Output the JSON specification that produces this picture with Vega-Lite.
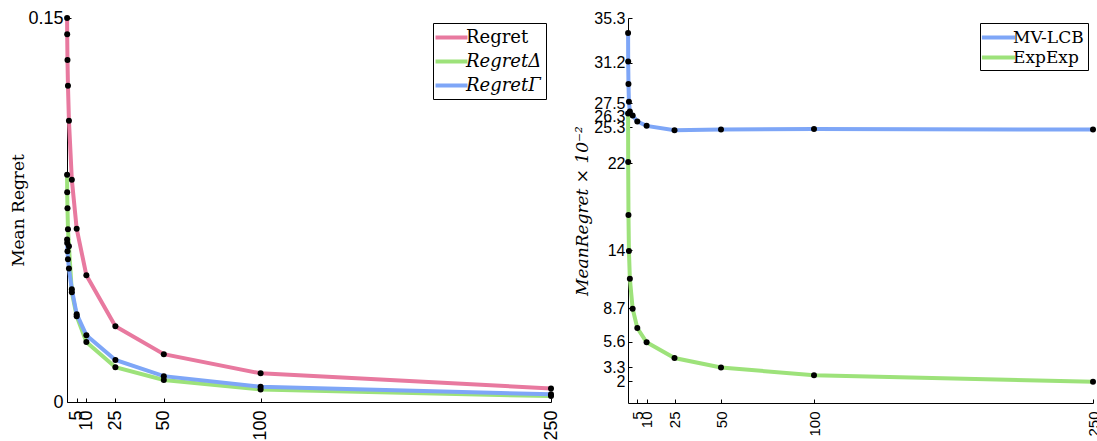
{
  "$schema": "https://vega.github.io/schema/vega-lite/v6.json",
  "background": "white",
  "padding": {"left": 9, "top": 9, "right": 0, "bottom": 0},
  "spacing": 12,
  "config": {
    "view": {"stroke": null},
    "axis": {
      "grid": false,
      "domainColor": "black",
      "domainWidth": 1,
      "tickColor": "black",
      "tickSize": -4,
      "labelColor": "black",
      "labelFont": "Liberation Sans",
      "labelOverlap": false,
      "labelFlush": false,
      "titleFont": "DejaVu Serif",
      "titleFontWeight": "normal",
      "titleColor": "black"
    },
    "legend": {
      "orient": "top-right",
      "offset": 5,
      "strokeColor": "black",
      "fillColor": "white",
      "padding": 4,
      "cornerRadius": 0,
      "symbolStrokeWidth": 4,
      "symbolOffset": 4,
      "labelFont": "DejaVu Serif",
      "labelColor": "black",
      "labelOffset": 4
    }
  },
  "datasets": {
    "left": [
      {"x": 0.05, "series": "Regret", "value": 0.15},
      {"x": 0.1, "series": "Regret", "value": 0.1437},
      {"x": 0.25, "series": "Regret", "value": 0.1336},
      {"x": 0.5, "series": "Regret", "value": 0.1235},
      {"x": 1, "series": "Regret", "value": 0.1099},
      {"x": 2.5, "series": "Regret", "value": 0.0868},
      {"x": 5, "series": "Regret", "value": 0.0677},
      {"x": 10, "series": "Regret", "value": 0.0495},
      {"x": 25, "series": "Regret", "value": 0.0296},
      {"x": 50, "series": "Regret", "value": 0.0187},
      {"x": 100, "series": "Regret", "value": 0.0112},
      {"x": 250, "series": "Regret", "value": 0.0053},
      {"x": 0.05, "series": "RegretΔ", "value": 0.0888},
      {"x": 0.1, "series": "RegretΔ", "value": 0.0819},
      {"x": 0.25, "series": "RegretΔ", "value": 0.0757},
      {"x": 0.5, "series": "RegretΔ", "value": 0.0675},
      {"x": 1, "series": "RegretΔ", "value": 0.0608},
      {"x": 2.5, "series": "RegretΔ", "value": 0.0429},
      {"x": 5, "series": "RegretΔ", "value": 0.0335},
      {"x": 10, "series": "RegretΔ", "value": 0.0234},
      {"x": 25, "series": "RegretΔ", "value": 0.0136},
      {"x": 50, "series": "RegretΔ", "value": 0.0086},
      {"x": 100, "series": "RegretΔ", "value": 0.0049},
      {"x": 250, "series": "RegretΔ", "value": 0.0023},
      {"x": 0.05, "series": "RegretΓ", "value": 0.0635},
      {"x": 0.1, "series": "RegretΓ", "value": 0.0621},
      {"x": 0.25, "series": "RegretΓ", "value": 0.0589},
      {"x": 0.5, "series": "RegretΓ", "value": 0.0558},
      {"x": 1, "series": "RegretΓ", "value": 0.0521},
      {"x": 2.5, "series": "RegretΓ", "value": 0.044},
      {"x": 5, "series": "RegretΓ", "value": 0.0343},
      {"x": 10, "series": "RegretΓ", "value": 0.0261},
      {"x": 25, "series": "RegretΓ", "value": 0.0164},
      {"x": 50, "series": "RegretΓ", "value": 0.0101},
      {"x": 100, "series": "RegretΓ", "value": 0.006},
      {"x": 250, "series": "RegretΓ", "value": 0.003}
    ],
    "right": [
      {"x": 0.05, "series": "MV-LCB", "value": 33.92},
      {"x": 0.1, "series": "MV-LCB", "value": 31.31},
      {"x": 0.25, "series": "MV-LCB", "value": 29.24},
      {"x": 0.5, "series": "MV-LCB", "value": 27.62},
      {"x": 1, "series": "MV-LCB", "value": 26.73},
      {"x": 2.5, "series": "MV-LCB", "value": 26.36},
      {"x": 5, "series": "MV-LCB", "value": 25.81},
      {"x": 10, "series": "MV-LCB", "value": 25.41},
      {"x": 25, "series": "MV-LCB", "value": 25.0},
      {"x": 50, "series": "MV-LCB", "value": 25.07},
      {"x": 100, "series": "MV-LCB", "value": 25.12},
      {"x": 250, "series": "MV-LCB", "value": 25.07},
      {"x": 0.05, "series": "ExpExp", "value": 26.54},
      {"x": 0.1, "series": "ExpExp", "value": 22.09},
      {"x": 0.25, "series": "ExpExp", "value": 17.24},
      {"x": 0.5, "series": "ExpExp", "value": 13.94},
      {"x": 1, "series": "ExpExp", "value": 11.4},
      {"x": 2.5, "series": "ExpExp", "value": 8.64},
      {"x": 5, "series": "ExpExp", "value": 6.88},
      {"x": 10, "series": "ExpExp", "value": 5.56},
      {"x": 25, "series": "ExpExp", "value": 4.12},
      {"x": 50, "series": "ExpExp", "value": 3.25},
      {"x": 100, "series": "ExpExp", "value": 2.55},
      {"x": 250, "series": "ExpExp", "value": 1.94}
    ]
  },
  "resolve": {"scale": {"color": "independent"}},
  "hconcat": [
    {
      "width": 484,
      "height": 384,
      "data": {"name": "left"},
      "encoding": {
        "x": {"field": "x", "type": "quantitative", "scale": {"domain": [0, 250], "nice": false, "zero": false},
              "axis": {"values": [5, 10, 25, 50, 100, 250], "title": null, "labelAngle": 270, "labelFontSize": 18, "labelPadding": 12}},
        "y": {"field": "value", "type": "quantitative", "scale": {"domain": [0, 0.15], "nice": false},
              "axis": {"values": [0, 0.15], "format": ".3~g", "title": "Mean Regret", "titleFontSize": 17, "titlePadding": 0, "labelFontSize": 18, "labelPadding": 8}}
      },
      "layer": [
        {
          "mark": {"type": "line", "strokeWidth": 4},
          "encoding": {
            "color": {"field": "series", "type": "nominal",
                      "scale": {"domain": ["Regret", "RegretΔ", "RegretΓ"], "range": ["#E8799F", "#9DE27A", "#7EA6F7"]},
                      "legend": {"title": null, "labelFontSize": 18, "symbolType": "M-1.88,0H1.88", "symbolSize": 289, "rowPadding": 4,
                                 "labelFontStyle": {"expr": "datum.label == 'Regret' ? 'normal' : 'italic'"}}}
          }
        },
        {
          "mark": {"type": "point", "filled": true, "color": "black", "opacity": 1, "size": 36},
          "encoding": {"detail": {"field": "series", "type": "nominal"}}
        }
      ]
    },
    {
      "width": 465,
      "height": 385,
      "data": {"name": "right"},
      "encoding": {
        "x": {"field": "x", "type": "quantitative", "scale": {"domain": [0, 250], "nice": false, "zero": false},
              "axis": {"values": [5, 10, 25, 50, 100, 250], "title": null, "labelAngle": 270, "labelFontSize": 15, "labelPadding": 12}},
        "y": {"field": "value", "type": "quantitative", "scale": {"domain": [0, 35.3], "nice": false},
              "axis": {"values": [2, 3.3, 5.6, 8.7, 14, 22, 25.3, 26.3, 27.5, 31.2, 35.3], "format": ".3~g", "title": "MeanRegret × 10⁻²", "titleFontStyle": "italic", "titleFontSize": 17, "labelFontSize": 16, "labelPadding": 7, "titlePadding": 2}}
      },
      "layer": [
        {
          "mark": {"type": "line", "strokeWidth": 4},
          "encoding": {
            "color": {"field": "series", "type": "nominal",
                      "scale": {"domain": ["MV-LCB", "ExpExp"], "range": ["#7EA6F7", "#9DE27A"]},
                      "legend": {"title": null, "labelFontSize": 17, "rowPadding": 1, "symbolType": "M-1.95,0H1.95", "symbolSize": 289}}
          }
        },
        {
          "mark": {"type": "point", "filled": true, "color": "black", "opacity": 1, "size": 36},
          "encoding": {"detail": {"field": "series", "type": "nominal"}}
        }
      ]
    }
  ]
}
